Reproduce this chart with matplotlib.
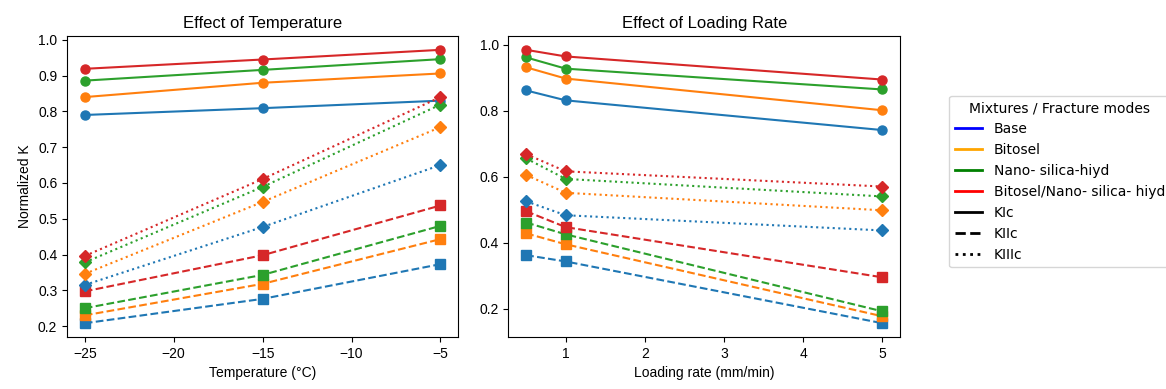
import matplotlib
matplotlib.use("Agg")
import matplotlib.pyplot as plt
from matplotlib.lines import Line2D

plt.rcParams['font.family'] = ['Liberation Sans', 'DejaVu Sans']

mixtures = ["Base", "Bitosel", "Nano- silica-hiyd", "Bitosel/Nano- silica- hiyd"]
mix_colors = ["tab:blue", "tab:orange", "tab:green", "tab:red"]
legend_colors = ["blue", "orange", "green", "red"]
modes = ["KIc", "KIIc", "KIIIc"]
mode_styles = ["-", "--", ":"]
mode_markers = ["o", "s", "D"]

temperature = [-25, -15, -5]
temp_KIc = [
    [0.790, 0.809, 0.830],
    [0.840, 0.880, 0.906],
    [0.886, 0.916, 0.946],
    [0.919, 0.945, 0.972],
]
temp_KIIc = [
    [0.208, 0.276, 0.373],
    [0.230, 0.318, 0.443],
    [0.250, 0.343, 0.480],
    [0.297, 0.398, 0.537],
]
temp_KIIIc = [
    [0.315, 0.477, 0.650],
    [0.346, 0.547, 0.756],
    [0.378, 0.589, 0.819],
    [0.396, 0.611, 0.840],
]

loading_rate = [0.5, 1, 5]
rate_KIc = [
    [0.861, 0.831, 0.741],
    [0.931, 0.897, 0.801],
    [0.961, 0.927, 0.864],
    [0.984, 0.964, 0.894],
]
rate_KIIc = [
    [0.362, 0.343, 0.156],
    [0.428, 0.395, 0.177],
    [0.461, 0.425, 0.192],
    [0.495, 0.447, 0.295],
]
rate_KIIIc = [
    [0.525, 0.483, 0.437],
    [0.605, 0.551, 0.498],
    [0.655, 0.593, 0.540],
    [0.668, 0.616, 0.570],
]

fig = plt.figure(figsize=(11.66, 3.89), dpi=100)
ax1 = fig.add_axes([0.0575, 0.134, 0.3355, 0.773])
ax2 = fig.add_axes([0.436, 0.134, 0.336, 0.773])

def draw(ax, x, groups):
    for mi, data in enumerate(groups):
        for i in range(len(mixtures)):
            ax.plot(x, data[i], linestyle=mode_styles[mi], marker=mode_markers[mi],
                    color=mix_colors[i], linewidth=1.5, markersize=6.5)

draw(ax1, temperature, [temp_KIc, temp_KIIc, temp_KIIIc])
draw(ax2, loading_rate, [rate_KIc, rate_KIIc, rate_KIIIc])

ax1.set_title("Effect of Temperature", fontsize=12)
ax1.set_xlabel("Temperature (°C)", fontsize=10)
ax1.set_ylabel("Normalized K", fontsize=10)
ax2.set_title("Effect of Loading Rate", fontsize=12)
ax2.set_xlabel("Loading rate (mm/min)", fontsize=10)
ax1.set_xticks([-25, -20, -15, -10, -5])
ax2.set_xticks([1, 2, 3, 4, 5])

handles = [Line2D([0], [0], color=c, lw=2) for c in legend_colors]
handles += [Line2D([0], [0], color="black", lw=2, linestyle=s) for s in mode_styles]
labels = mixtures + modes
fig.legend(handles, labels, title="Mixtures / Fracture modes", loc="upper left",
           bbox_to_anchor=(0.808, 0.772), prop={'family': 'DejaVu Sans', 'size': 10},
           title_fontproperties={'family': 'DejaVu Sans', 'size': 10})

fig.savefig("out.png", dpi=100)
